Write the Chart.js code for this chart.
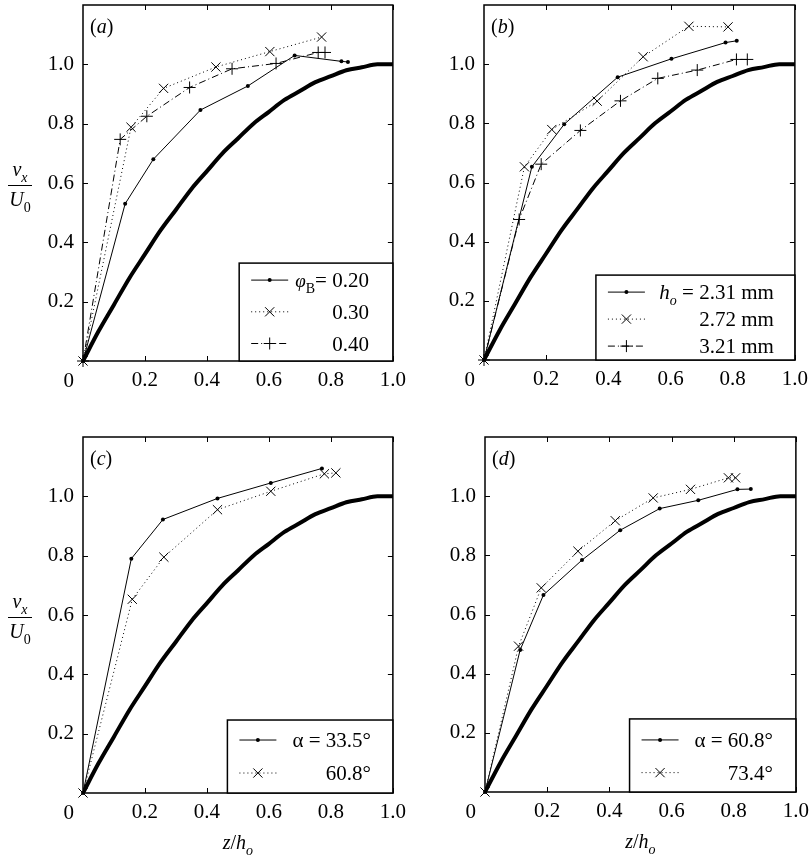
<!DOCTYPE html>
<html>
<head>
<meta charset="utf-8">
<script src="https://cdn.jsdelivr.net/npm/chart.js@4.4.0/dist/chart.umd.min.js"></script>
<style>
  html, body { margin: 0; padding: 0; background: #fff; }
  #wrap { position: relative; width: 809px; height: 856px; overflow: hidden; }
  #wrap canvas { position: absolute; }
</style>
</head>
<body>
<div id="wrap">
  <canvas id="ca" width="406" height="428" style="left:0;top:-8px;width:406px;height:428px"></canvas>
  <canvas id="cb" width="405" height="428" style="left:403px;top:-8px;width:405px;height:428px"></canvas>
  <canvas id="cc" width="406" height="436" style="left:0;top:420px;width:406px;height:436px"></canvas>
  <canvas id="cd" width="405" height="436" style="left:404px;top:420px;width:405px;height:436px"></canvas>
</div>
<script>
// theory profile (thick curve); same in every panel
var theoryZ = [0, 0.05, 0.1, 0.15, 0.2, 0.25, 0.3, 0.35, 0.4, 0.45, 0.5, 0.55, 0.6, 0.65, 0.7, 0.75, 0.8, 0.85, 0.9, 0.95, 1.0];
var theoryV = [0, 0.10, 0.19, 0.28, 0.36, 0.44, 0.51, 0.58, 0.64, 0.70, 0.75, 0.80, 0.84, 0.88, 0.91, 0.94, 0.96, 0.98, 0.99, 1.0, 1.0];

// (a) phi_B
var legendA = ['0.20', '0.30', '0.40'];
var a20Z = [0, 0.136, 0.227, 0.379, 0.532, 0.683, 0.834, 0.855];
var a20V = [0, 0.530, 0.680, 0.846, 0.927, 1.030, 1.010, 1.008];
var a30Z = [0, 0.155, 0.260, 0.429, 0.603, 0.770];
var a30V = [0, 0.788, 0.919, 0.991, 1.043, 1.092];
var a40Z = [0, 0.120, 0.206, 0.344, 0.481, 0.623, 0.759, 0.781];
var a40V = [0, 0.747, 0.825, 0.922, 0.985, 1.003, 1.040, 1.040];

// (b) h_o
var legendB = ['2.31 mm', '2.72 mm', '3.21 mm'];
var b231Z = [0, 0.154, 0.258, 0.430, 0.603, 0.777, 0.813];
var b231V = [0, 0.653, 0.797, 0.956, 1.018, 1.073, 1.079];
var b272Z = [0, 0.130, 0.218, 0.364, 0.512, 0.659, 0.785];
var b272V = [0, 0.653, 0.779, 0.875, 1.025, 1.128, 1.126];
var b321Z = [0, 0.113, 0.184, 0.310, 0.439, 0.559, 0.686, 0.812, 0.847];
var b321V = [0, 0.475, 0.662, 0.776, 0.876, 0.952, 0.980, 1.016, 1.016];

// (c) alpha
var legendC = ['33.5°', '60.8°'];
var c335Z = [0, 0.156, 0.258, 0.434, 0.606, 0.771];
var c335V = [0, 0.790, 0.922, 0.993, 1.045, 1.094];
var c608Z = [0, 0.159, 0.261, 0.434, 0.606, 0.779, 0.816];
var c608V = [0, 0.653, 0.795, 0.955, 1.017, 1.076, 1.079];

// (d) alpha
var legendD = ['60.8°', '73.4°'];
var d608Z = [0, 0.113, 0.188, 0.312, 0.435, 0.562, 0.686, 0.812, 0.855];
var d608V = [0, 0.480, 0.666, 0.784, 0.885, 0.958, 0.986, 1.023, 1.024];
var d734Z = [0, 0.108, 0.181, 0.299, 0.419, 0.541, 0.661, 0.783, 0.806];
var d734V = [0, 0.493, 0.690, 0.814, 0.917, 0.994, 1.023, 1.062, 1.062];

var SERIF = '"Liberation Serif", "Times New Roman", Times, serif';
var FS = 21;   // tick labels and legend
var TFS = 20;  // axis titles and panel tags

function pts(zs, vs){ return zs.map(function(z, i){ return { x: z, y: vs[i] }; }); }

function theorySet(){
  return { data: pts(theoryZ, theoryV), showLine: true, borderColor: '#000', borderWidth: 4,
    pointRadius: 0, cubicInterpolationMode: 'monotone' };
}
function dotSet(zs, vs){
  return { data: pts(zs, vs), showLine: true, borderColor: '#000', backgroundColor: '#000', borderWidth: 1,
    pointStyle: 'circle', pointRadius: 2, pointBorderWidth: 0, pointBackgroundColor: '#000', clip: false };
}
function crossSet(zs, vs){
  return { data: pts(zs, vs), showLine: true, borderColor: '#000', borderWidth: 1, borderDash: [1, 3],
    pointStyle: 'crossRot', pointRadius: 6.5, pointBorderWidth: 1, pointBorderColor: '#000', clip: false };
}
function plusSet(zs, vs){
  return { data: pts(zs, vs), showLine: true, borderColor: '#000', borderWidth: 1, borderDash: [7, 3, 1, 3],
    pointStyle: 'cross', pointRadius: 6, pointBorderWidth: 1, pointBorderColor: '#000', clip: false };
}

// rich text parts: [text, flags, scale]; flags 'i' italic, 's' subscript
function fnt(style, size){ return style + ' ' + size + 'px ' + SERIF; }
function partFont(ctx, p, size){
  var sub = p[1].indexOf('s') >= 0, it = p[1].indexOf('i') >= 0;
  var sz = size * (p[2] || 1);
  ctx.font = fnt(it ? 'italic' : 'normal', Math.round(sub ? sz * 0.68 : sz));
  return sub;
}
function richWidth(ctx, parts, size){
  var w = 0;
  parts.forEach(function(p){ partFont(ctx, p, size); w += ctx.measureText(p[0]).width; });
  return w;
}
function drawRich(ctx, parts, x, y, size, align){
  var w = richWidth(ctx, parts, size);
  var cx = align === 'right' ? x - w : (align === 'center' ? x - w / 2 : x);
  ctx.textAlign = 'left';
  ctx.textBaseline = 'alphabetic';
  parts.forEach(function(p){
    var sub = partFont(ctx, p, size);
    ctx.fillText(p[0], cx, y + (sub ? size * 0.28 : 0));
    cx += ctx.measureText(p[0]).width;
  });
}

var figs = {
  ca: { tag: 'a', legX: 0.504, legY: 0.33, rowTop: 17, rowGap: 31.7, textRight: 24, yTitle: true, xTitle: false,
    rows: [[['φ', 'i', 0.9], ['B', 's'], ['= ' + legendA[0], '']], [[legendA[1], '']], [[legendA[2], '']]] },
  cb: { tag: 'b', legX: 0.36, legY: 0.287, rowTop: 17, rowGap: 27, textRight: 21, yTitle: false, xTitle: false,
    rows: [[['h', 'i'], ['o', 'si'], [' = ' + legendB[0], '']], [[legendB[1], '']], [[legendB[2], '']]] },
  cc: { tag: 'c', legX: 0.466, legY: 0.246, rowTop: 20, rowGap: 33, textRight: 22, yTitle: true, xTitle: true,
    rows: [[['α = ' + legendC[0], '']], [[legendC[1], '']]] },
  cd: { tag: 'd', legX: 0.465, legY: 0.247, rowTop: 21, rowGap: 32.7, textRight: 23, yTitle: false, xTitle: true,
    rows: [[['α = ' + legendD[0], '']], [[legendD[1], '']]] }
};

var figPlugin = {
  id: 'fig',
  afterDraw: function(chart){
    var f = figs[chart.canvas.id];
    if(!f){ return; }
    var ctx = chart.ctx, a = chart.chartArea;
    var xs = chart.scales.x, ys = chart.scales.y;
    ctx.save();
    ctx.strokeStyle = '#000';
    ctx.fillStyle = '#000';

    // inward ticks on all four sides
    ctx.lineWidth = 1;
    ctx.beginPath();
    xs.ticks.forEach(function(t){
      var px = Math.round(xs.getPixelForValue(t.value)) + 0.5;
      ctx.moveTo(px, a.bottom); ctx.lineTo(px, a.bottom - 5);
      ctx.moveTo(px, a.top); ctx.lineTo(px, a.top + 5);
    });
    ys.ticks.forEach(function(t){
      var py = Math.round(ys.getPixelForValue(t.value)) + 0.5;
      ctx.moveTo(a.left, py); ctx.lineTo(a.left + 5, py);
      ctx.moveTo(a.right, py); ctx.lineTo(a.right - 5, py);
    });
    ctx.stroke();

    // frame
    ctx.lineWidth = 1.5;
    ctx.strokeRect(a.left, a.top, a.right - a.left, a.bottom - a.top);

    // panel tag
    drawRich(ctx, [['(', ''], [f.tag, 'i'], [')', '']], a.left + 7, a.top + 28, TFS, 'left');

    // corner zero
    ctx.font = fnt('normal', FS);
    ctx.textAlign = 'right';
    ctx.textBaseline = 'alphabetic';
    ctx.fillText('0', a.left - 9, a.bottom + 26);

    // legend
    var lx = xs.getPixelForValue(f.legX), ly = ys.getPixelForValue(f.legY);
    ctx.fillStyle = '#fff';
    ctx.fillRect(lx, ly, a.right - lx, a.bottom - ly);
    ctx.fillStyle = '#000';
    ctx.lineWidth = 1.5;
    ctx.strokeRect(lx, ly, a.right - lx, a.bottom - ly);
    f.rows.forEach(function(parts, i){
      var ds = chart.data.datasets[i + 1];
      var ry = ly + f.rowTop + i * f.rowGap;
      var s0 = lx + 12, s1 = lx + 49;
      ctx.save();
      ctx.lineWidth = ds.borderWidth;
      ctx.setLineDash(ds.borderDash || []);
      ctx.beginPath();
      ctx.moveTo(s0, ry); ctx.lineTo(s1, ry);
      ctx.stroke();
      ctx.restore();
      ctx.save();
      ctx.lineWidth = ds.pointBorderWidth || 1;
      Chart.helpers.drawPoint(ctx, { pointStyle: ds.pointStyle, radius: ds.pointRadius,
        borderWidth: ds.pointBorderWidth, rotation: 0 }, (s0 + s1) / 2, ry);
      ctx.restore();
      drawRich(ctx, parts, a.right - f.textRight, ry + 7, FS, 'right');
    });

    // y title v_x / U_0
    if(f.yTitle){
      var cx = a.left - 63, cy = (a.top + a.bottom) / 2;
      drawRich(ctx, [['v', 'i'], ['x', 'si']], cx, cy - 7, TFS, 'center');
      ctx.lineWidth = 1;
      ctx.beginPath();
      ctx.moveTo(cx - 12, cy + 2.5); ctx.lineTo(cx + 12, cy + 2.5);
      ctx.stroke();
      drawRich(ctx, [['U', 'i'], ['0', 's']], cx, cy + 23, TFS, 'center');
    }
    // x title z/h_o
    if(f.xTitle){
      drawRich(ctx, [['z', 'i'], ['/', ''], ['h', 'i'], ['o', 'si']], (a.left + a.right) / 2, a.bottom + 56, TFS, 'center');
    }
    ctx.restore();
  }
};
Chart.register(figPlugin);

// label offset is done with tickLength (grid hidden) so that Chart.js does not
// reserve extra edge padding for the labels
function makeOptions(pad, yW, xH){
  var tickFont = { family: SERIF, size: FS };
  return {
    responsive: false,
    animation: false,
    events: [],
    layout: { padding: pad },
    plugins: { legend: { display: false }, tooltip: { enabled: false } },
    scales: {
      x: {
        type: 'linear', min: 0, max: 1,
        afterFit: function(s){ s.height = xH; },
        grid: { display: false, drawTicks: true, tickLength: 7 },
        border: { display: false },
        ticks: { stepSize: 0.2, padding: 0, color: '#000', font: tickFont, maxRotation: 0, autoSkip: false,
          callback: function(v){ return v < 0.01 ? null : Number(v).toFixed(1); } }
      },
      y: {
        type: 'linear', min: 0, max: 1.2,
        afterFit: function(s){ s.width = yW; },
        grid: { display: false, drawTicks: true, tickLength: 9 },
        border: { display: false },
        ticks: { stepSize: 0.2, padding: 0, color: '#000', font: tickFont, autoSkip: false,
          callback: function(v){ return (v < 0.01 || v > 1.19) ? null : Number(v).toFixed(1); } }
      }
    }
  };
}

new Chart(document.getElementById('ca'), {
  type: 'scatter',
  data: { datasets: [theorySet(), dotSet(a20Z, a20V), crossSet(a30Z, a30V), plusSet(a40Z, a40V)] },
  options: makeOptions({ left: 0, top: 13, right: 12, bottom: 0 }, 83, 59)
});
new Chart(document.getElementById('cb'), {
  type: 'scatter',
  data: { datasets: [theorySet(), dotSet(b231Z, b231V), crossSet(b272Z, b272V), plusSet(b321Z, b321V)] },
  options: makeOptions({ left: 0, top: 13, right: 12, bottom: 0 }, 81, 60)
});
new Chart(document.getElementById('cc'), {
  type: 'scatter',
  data: { datasets: [theorySet(), dotSet(c335Z, c335V), crossSet(c608Z, c608V)] },
  options: makeOptions({ left: 0, top: 17, right: 12, bottom: 0 }, 83, 63)
});
new Chart(document.getElementById('cd'), {
  type: 'scatter',
  data: { datasets: [theorySet(), dotSet(d608Z, d608V), crossSet(d734Z, d734V)] },
  options: makeOptions({ left: 0, top: 17, right: 12, bottom: 0 }, 81, 64)
});
</script>
</body>
</html>
